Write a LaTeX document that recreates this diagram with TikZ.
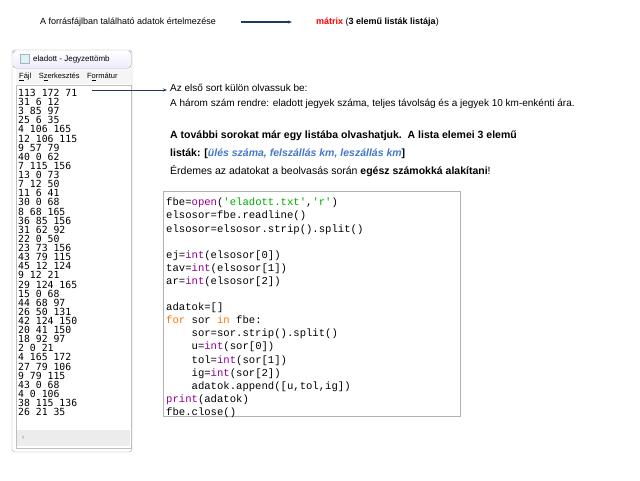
\documentclass[tikz,border=0pt]{standalone}
\usepackage{fontspec}
\setmainfont{Liberation Sans}
\newfontfamily\codefont{Liberation Mono}
\newfontfamily\notefont{DejaVu Sans Mono}
\usetikzlibrary{arrows.meta}
\definecolor{arrblue}{RGB}{31,56,100}
\definecolor{kw}{RGB}{255,119,0}
\definecolor{bi}{RGB}{144,0,144}
\definecolor{st}{RGB}{0,170,0}
\definecolor{hl}{RGB}{70,120,200}
\tikzset{lbl/.style={anchor=west,inner sep=0pt},
  conn/.style={draw=arrblue,line width=1.2pt,-{Stealth[length=4pt]}}}
\begin{document}
\begin{tikzpicture}[x=1pt,y=-1pt]
\useasboundingbox[fill=white] (0,0) rectangle (640,480);
% title
\node[lbl,font=\fontsize{9}{10}\selectfont] (t1) at (40,22) {A forrásfájlban található adatok értelmezése};
\node[lbl,font=\fontsize{9}{10}\selectfont] (t2) at (316,22) {\textcolor{red}{\textbf{mátrix}} (\textbf{3 elemű listák listája})};
\coordinate (t2a) at (292,22);
\draw[conn,line width=2pt] (241,22) -- (t2a);
% notepad window
\draw[gray!70,rounded corners=3pt,fill=white] (12,50) rectangle (132,452);
\fill[rounded corners=3pt,top color=white,bottom color=blue!8] (13,51) rectangle (131,68);
\draw[gray!60,fill=cyan!15] (20,54) rectangle (29,63);
\node[lbl,font=\fontsize{8}{9}\selectfont] (wt) at (33,59) {eladott - Jegyzettömb};
\fill[gray!8] (16,69) rectangle (131,84);
\node[lbl,font=\fontsize{7.5}{9}\selectfont] (menu) at (19,77) {\underline{F}ájl\quad S\underline{z}erkesztés\quad F\underline{o}rmátur};
\draw[gray!50,fill=white] (16,85) rectangle (131,448);
\fill[gray!15] (17,430) rectangle (130,446);
\node[lbl,font=\fontsize{7}{8}\selectfont,gray] (sb) at (22,438) {‹};
\node[anchor=north west,inner sep=0pt,align=left,font=\notefont\fontsize{9.8}{9.12}\selectfont] (data) at (18,89) {113 172 71\\31 6 12\\3 85 97\\25 6 35\\4 106 165\\12 106 115\\9 57 79\\40 0 62\\7 115 156\\13 0 73\\7 12 50\\11 6 41\\30 0 68\\8 68 165\\36 85 156\\31 62 92\\22 0 50\\23 73 156\\43 79 115\\45 12 124\\9 12 21\\29 124 165\\15 0 68\\44 68 97\\26 50 131\\42 124 150\\20 41 150\\18 92 97\\2 0 21\\4 165 172\\27 79 106\\9 79 115\\43 0 68\\4 0 106\\38 115 136\\26 21 35};
\coordinate (a1) at (92,90);
% explanations
\node[lbl,font=\fontsize{10}{12}\selectfont] (e1) at (170,88) {Az első sort külön olvassuk be:};
\draw[conn,line width=1pt] (a1) -- (167,90);
\node[lbl,font=\fontsize{10}{12}\selectfont] (e2) at (170,104) {A három szám rendre: eladott jegyek száma, teljes távolság és a jegyek 10 km-enkénti ára.};
\node[lbl,font=\fontsize{10.5}{12}\selectfont\bfseries] (e3) at (170,136) {A további sorokat már egy listába olvashatjuk.\ \ A lista elemei 3 elemű};
\node[lbl,font=\fontsize{10.5}{12}\selectfont] (e4) at (170,154) {\textbf{listák: [}\textcolor{hl}{\textbf{\textit{ülés száma, felszállás km, leszállás km}}}\textbf{]}};
\node[lbl,font=\fontsize{10.5}{12}\selectfont] (e5) at (170,171) {Érdemes az adatokat a beolvasás során \textbf{egész számokká alakítani}!};
% code box
\draw[gray!60,line width=0.8pt] (163,191) rectangle (460,416);
\node[anchor=north west,inner sep=0pt,align=left,font=\codefont\fontsize{10.6}{13.1}\selectfont] (code) at (166,198) {%
fbe=\textcolor{bi}{open}(\textcolor{st}{'eladott.txt'},\textcolor{st}{'r'})\\
elsosor=fbe.readline()\\
elsosor=elsosor.strip().split()\\
\strut\\
ej=\textcolor{bi}{int}(elsosor[0])\\
tav=\textcolor{bi}{int}(elsosor[1])\\
ar=\textcolor{bi}{int}(elsosor[2])\\
\strut\\
adatok=[]\\
\textcolor{kw}{for} sor \textcolor{kw}{in} fbe:\\
\ \ \ \ sor=sor.strip().split()\\
\ \ \ \ u=\textcolor{bi}{int}(sor[0])\\
\ \ \ \ tol=\textcolor{bi}{int}(sor[1])\\
\ \ \ \ ig=\textcolor{bi}{int}(sor[2])\\
\ \ \ \ adatok.append([u,tol,ig])\\
\textcolor{bi}{print}(adatok)\\
fbe.close()};
\end{tikzpicture}
\end{document}
